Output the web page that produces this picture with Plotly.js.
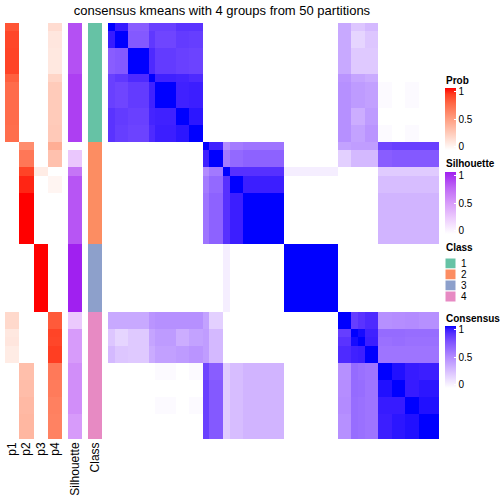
<!DOCTYPE html>
<html>
<head>
<meta charset="utf-8">
<script src="https://cdn.plot.ly/plotly-3.0.1.min.js"></script>
<style>html,body{margin:0;padding:0;background:#fff;}#chart{width:504px;height:504px;}</style>
</head>
<body>
<div id="chart"></div>
<script>
// ---- data (group = run of consecutive samples with identical rows) ----
const groupSizes = [1,2,3,1,3,2,2, 1,2,1,2,6, 8, 2,1,1,2,2,2,2,3];
const groupClass = [1,1,1,1,1,1,1, 2,2,2,2,2, 3, 4,4,4,4,4,4,4,4];
const probP1 = [0.82,0.87,0.88,0.78,0.73,0.73,0.72, 0,0,0,0,0, 0, 0.20,0.12,0.13,0.10,0,0,0,0];
const probP2 = [0,0,0,0,0,0,0, 0.58,0.68,0.88,0.94,1.00, 0, 0,0,0,0, 0.33,0.34,0.36,0.37];
const probP3 = [0,0,0,0,0,0,0, 0,0,0.10,0,0, 1.00, 0,0,0,0,0,0,0,0];
const probP4 = [0.18,0.13,0.12,0.22,0.27,0.27,0.28, 0.42,0.32,0,0.05,0, 0, 0.80,0.88,0.87,0.90, 0.67,0.66,0.64,0.63];
const silhouette = [0.83,0.83,0.83,0.89,0.89,0.89,0.89, 0.0,0.28,0.68,0.81,0.81, 1.0, 0.27,0.50,0.50,0.50,0.56,0.56,0.56,0.50];
const consensus = [
 [1.00,0.95,0.70,0.82,0.82,0.87,0.87, 0,0,0,0,0, 0, 0.37,0.24,0.24,0.30,0,0,0,0],
 [0.95,1.00,0.72,0.85,0.80,0.84,0.83, 0,0,0,0,0, 0, 0.37,0.18,0.18,0.24,0,0,0,0],
 [0.70,0.72,1.00,0.90,0.84,0.82,0.81, 0,0,0,0,0, 0, 0.37,0.23,0.23,0.23,0,0,0,0],
 [0.82,0.85,0.90,1.00,0.93,0.92,0.90, 0,0,0,0,0, 0, 0.46,0.39,0.39,0.36,0,0,0,0],
 [0.82,0.80,0.84,0.93,1.00,0.93,0.94, 0,0,0,0,0, 0, 0.48,0.43,0.43,0.41,0.02,0,0.02,0],
 [0.87,0.84,0.82,0.92,0.93,1.00,0.96, 0,0,0,0,0, 0, 0.48,0.35,0.35,0.43,0,0,0,0],
 [0.87,0.83,0.81,0.90,0.94,0.96,1.00, 0,0,0,0,0, 0, 0.48,0.40,0.40,0.46,0.02,0,0.02,0],
 [0,0,0,0,0,0,0, 1.00,0.93,0.50,0.57,0.60, 0, 0.40,0.42,0.42,0.42,0.80,0.82,0.82,0.82],
 [0,0,0,0,0,0,0, 0.93,1.00,0.58,0.65,0.68, 0, 0.20,0.30,0.30,0.30,0.70,0.72,0.72,0.72],
 [0,0,0,0,0,0,0, 0.50,0.58,1.00,0.88,0.88, 0.07, 0,0,0,0, 0.22,0.22,0.22,0.22],
 [0,0,0,0,0,0,0, 0.57,0.65,0.88,1.00,0.94, 0, 0,0,0,0, 0.28,0.28,0.28,0.28],
 [0,0,0,0,0,0,0, 0.60,0.68,0.88,0.94,1.00, 0, 0,0,0,0, 0.32,0.32,0.32,0.32],
 [0,0,0,0,0,0,0, 0,0,0.07,0,0, 1.00, 0,0,0,0,0,0,0,0],
 [0.37,0.37,0.37,0.46,0.48,0.48,0.48, 0.40,0.20,0,0,0, 0, 1.00,0.83,0.87,0.90,0.48,0.49,0.50,0.48],
 [0.24,0.18,0.23,0.39,0.43,0.35,0.40, 0.42,0.30,0,0,0, 0, 0.83,1.00,0.98,0.93,0.64,0.64,0.63,0.63],
 [0.24,0.18,0.23,0.39,0.43,0.35,0.40, 0.42,0.30,0,0,0, 0, 0.87,0.98,1.00,0.94,0.62,0.63,0.62,0.62],
 [0.30,0.24,0.23,0.36,0.41,0.43,0.46, 0.42,0.30,0,0,0, 0, 0.90,0.93,0.94,1.00,0.60,0.60,0.60,0.60],
 [0,0,0,0,0.02,0,0.02, 0.80,0.70,0.22,0.28,0.32, 0, 0.48,0.64,0.62,0.60,1.00,0.97,0.95,0.94],
 [0,0,0,0,0,0,0, 0.82,0.72,0.22,0.28,0.32, 0, 0.49,0.64,0.63,0.60,0.97,1.00,0.95,0.96],
 [0,0,0,0,0.02,0,0.02, 0.82,0.72,0.22,0.28,0.32, 0, 0.50,0.63,0.62,0.60,0.95,0.95,1.00,0.97],
 [0,0,0,0,0,0,0, 0.82,0.72,0.22,0.28,0.32, 0, 0.48,0.63,0.62,0.60,0.94,0.96,0.97,1.00]
];
const probLabels = ['p1','p2','p3','p4'];
const classLabels = ['1','2','3','4'];
const classColors = ['#66C2A5','#FC8D62','#8DA0CB','#E78AC3'];
const legendTicks = ['0','0.5','1'];
const titleText = 'consensus kmeans with 4 groups from 50 partitions';

// ---- build ----
const edges = [0];
groupSizes.forEach(s => edges.push(edges[edges.length-1] + s));
const W = 504, H = 504;
const px = v => v / W;
const py = v => 1 - v / H;

const redScale = [[0,'#FFFFFF'],[0.25,'rgb(255,207,191)'],[0.5,'rgb(255,158,129)'],[0.75,'rgb(255,104,70)'],[0.9,'rgb(255,62,34)'],[1,'rgb(255,0,0)']];
const purpleScale = [[0,'#FFFFFF'],[0.25,'rgb(237,205,253)'],[0.5,'rgb(215,155,250)'],[0.75,'rgb(190,102,245)'],[1,'rgb(160,32,240)']];
const blueScale = [[0,'#FFFFFF'],[0.25,'rgb(220,196,255)'],[0.5,'rgb(179,139,255)'],[0.75,'rgb(126,82,255)'],[0.875,'rgb(89,50,255)'],[0.95,'rgb(55,27,255)'],[1,'rgb(0,0,255)']];
const classScale = [];
classColors.forEach((c,i) => { classScale.push([i/4, c]); classScale.push([(i+1)/4, c]); });

const legFont = {family: 'Liberation Sans, Arial', size: 10, color: '#000'};
const cbCommon = (top, len) => ({
  x: px(445), xanchor: 'left', xpad: 0,
  y: py(top), yanchor: 'top', ypad: 0,
  len: len, lenmode: 'pixels', thickness: 11, thicknessmode: 'pixels',
  outlinewidth: 0, tickmode: 'array', tickvals: [0.05,0.5,0.95], ticktext: legendTicks,
  ticks: 'inside', ticklen: 2, tickcolor: '#FFFFFF',
  tickfont: legFont
});

const probZ = probP1.map((v,i) => [probP1[i], probP2[i], probP3[i], probP4[i]]);
const silZ = silhouette.map(v => [v]);
const classZ = groupClass.map(v => [v]);

const traces = [
  {type:'heatmap', x: edges, y: edges, z: consensus, xaxis:'x', yaxis:'y',
   colorscale: blueScale, zmin:0, zmax:1, hoverinfo:'skip', colorbar: cbCommon(326, 62)},
  {type:'heatmap', x: [0,1,2,3,4], y: edges, z: probZ, xaxis:'x2', yaxis:'y',
   colorscale: redScale, zmin:0, zmax:1, hoverinfo:'skip', colorbar: cbCommon(88, 62)},
  {type:'heatmap', x: [0,1], y: edges, z: silZ, xaxis:'x3', yaxis:'y',
   colorscale: purpleScale, zmin:0, zmax:1, hoverinfo:'skip', colorbar: cbCommon(172, 62)},
  {type:'heatmap', x: [0,1], y: edges, z: classZ, xaxis:'x4', yaxis:'y',
   colorscale: classScale, zmin:0.5, zmax:4.5, showscale:false, hoverinfo:'skip'}
];

const tickFont = {family:'Liberation Sans, Arial', size:12, color:'#000'};
const hiddenAxis = {showgrid:false, zeroline:false, showline:false, ticks:'', fixedrange:true};
const layout = {
  width: W, height: H,
  margin: {l:0, r:0, t:0, b:0},
  paper_bgcolor:'#FFFFFF', plot_bgcolor:'#FFFFFF',
  showlegend: false,
  title: {text: titleText, x: px(222), xanchor:'center', xref:'paper', y: py(10), yanchor:'middle', yref:'paper',
          font:{family:'Liberation Sans, Arial', size:13, color:'#000'}},
  xaxis: Object.assign({}, hiddenAxis, {domain:[px(108), px(439)], range:[0,49], showticklabels:false}),
  xaxis2: Object.assign({}, hiddenAxis, {domain:[px(5), px(62)], range:[0,4], tickmode:'array', tickvals:[0.5,1.5,2.5,3.5], ticktext: probLabels, tickangle:-90, tickfont: tickFont, anchor:'y'}),
  xaxis3: Object.assign({}, hiddenAxis, {domain:[px(68), px(82)], range:[0,1], tickmode:'array', tickvals:[0.5], ticktext:['Silhouette'], tickangle:-90, tickfont: tickFont, anchor:'y'}),
  xaxis4: Object.assign({}, hiddenAxis, {domain:[px(88), px(102)], range:[0,1], tickmode:'array', tickvals:[0.5], ticktext:['Class'], tickangle:-90, tickfont: tickFont, anchor:'y'}),
  yaxis: Object.assign({}, hiddenAxis, {domain:[py(439), py(23)], range:[49,0], showticklabels:false}),
  annotations: [],
  shapes: []
};

const legTitle = (text, yc) => ({text: '<b>' + text + '</b>', x: px(445), xanchor:'left', xref:'paper', y: py(yc), yanchor:'middle', yref:'paper',
  showarrow:false, xshift:-1, font:{family:'Liberation Sans, Arial', size:10, color:'#000'}});
layout.annotations.push(legTitle('Prob', 80));
layout.annotations.push(legTitle('Silhouette', 164));
layout.annotations.push(legTitle('Class', 247));
layout.annotations.push(legTitle('Consensus', 318));

classLabels.forEach((lab, i) => {
  const top = 258 + i * 11;
  layout.shapes.push({type:'rect', xref:'paper', yref:'paper', x0: px(445), x1: px(456), y0: py(top), y1: py(top + 11),
    fillcolor: classColors[i], line:{width:1, color:'#FFFFFF'}});
  layout.annotations.push({text: lab, x: px(459), xanchor:'left', xref:'paper', y: py(top + 5.5), yanchor:'middle', yref:'paper',
    showarrow:false, font: legFont});
});

Plotly.newPlot('chart', traces, layout, {staticPlot:true, displayModeBar:false});
</script>
</body>
</html>
